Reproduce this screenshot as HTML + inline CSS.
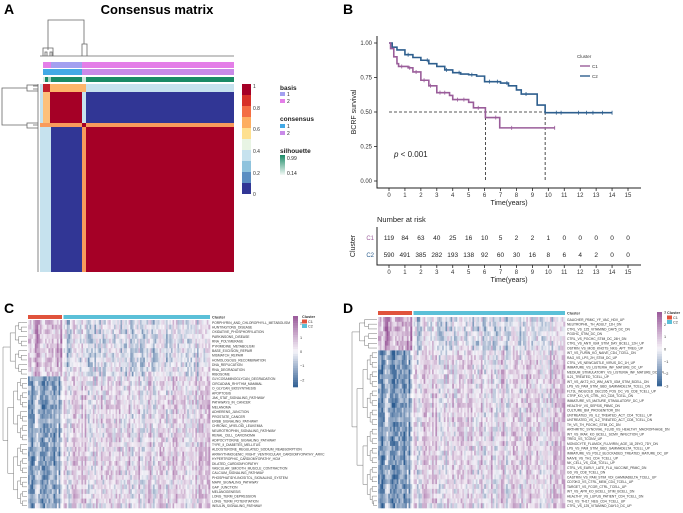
<!DOCTYPE html>
<html><head><meta charset="utf-8">
<style>
html,body{margin:0;padding:0;background:#fff;}
body{width:683px;height:513px;overflow:hidden;font-family:"Liberation Sans",Arial,sans-serif;}
svg{position:absolute;left:0;top:0;}
</style></head>
<body>
<svg id="fig" width="683" height="513" viewBox="0 0 683 513" xmlns="http://www.w3.org/2000/svg" font-family="Liberation Sans, Arial, sans-serif">
<g id="panelA">
  <text x="4" y="14" font-size="14" font-weight="bold">A</text>
  <text x="157" y="14" font-size="13" font-weight="bold" text-anchor="middle">Consensus matrix</text>
  <g stroke="#666" stroke-width="0.8" fill="none">
    <path d="M48,50 V20 H84 V44"/><path d="M43,56 V48 H53 V56 M45,56 V52 H47 V56 M50,56 V52 H52 V56"/><path d="M82,56 V44 H87 V56"/>
    <path d="M40,56 H234"/>
  </g>
  <g stroke="#666" stroke-width="0.8" fill="none">
    <path d="M27,88 H2 V125 H27"/><path d="M38,85 H27 V91 H38 M33,86 H38 M33,89 H38"/><path d="M38,123 H27 V128 H38 M33,125 H38"/>
    <path d="M38,84 V272"/>
  </g>
  <g>
    <rect x="43" y="62" width="8" height="6" fill="#e47ee8"/><rect x="51" y="62" width="31" height="6" fill="#a3a0f0"/><rect x="82" y="62" width="152" height="6" fill="#e47ee8"/>
  </g>
  <g>
    <rect x="43" y="69" width="39" height="6" fill="#43a9e6"/><rect x="82" y="69" width="152" height="6" fill="#c98ae8"/>
  </g>
  <g>
    <rect x="43" y="77" width="191" height="5" fill="#1a8a66"/><rect x="43" y="77" width="2" height="5" fill="#d7ece4"/><rect x="48" y="77" width="3" height="5" fill="#9fd0bd"/><rect x="82" y="77" width="4" height="5" fill="#cfe8de"/>
  </g>
  <g>
    <rect x="40" y="84" width="194" height="188" fill="#c6e2ee"/>
    <rect x="43" y="84" width="43" height="8" fill="#fdb56a"/>
    <rect x="43" y="84" width="7" height="8" fill="#c2212c"/>
    <rect x="43" y="92" width="7" height="31" fill="#fdc07a"/>
    <rect x="50" y="92" width="32" height="31" fill="#a50026"/>
    <rect x="86" y="92" width="148" height="31" fill="#313695"/>
    <rect x="40" y="123" width="194" height="4" fill="#f89b5c"/>
    <rect x="82" y="123" width="4" height="4" fill="#a50026"/>
    <rect x="51" y="127" width="31" height="145" fill="#313695"/>
    <rect x="82" y="127" width="4" height="145" fill="#f89b5c"/>
    <rect x="86" y="127" width="148" height="145" fill="#a50026"/>
  </g>
  <g>
    <rect x="242" y="84" width="9" height="11" fill="#a50026"/><rect x="242" y="95" width="9" height="11" fill="#d73027"/><rect x="242" y="106" width="9" height="11" fill="#f46d43"/><rect x="242" y="117" width="9" height="11" fill="#fdae61"/><rect x="242" y="128" width="9" height="11" fill="#fee090"/><rect x="242" y="139" width="9" height="11" fill="#e8f4e4"/><rect x="242" y="150" width="9" height="11" fill="#c6e2ee"/><rect x="242" y="161" width="9" height="11" fill="#8fc3dd"/><rect x="242" y="172" width="9" height="11" fill="#5b8ec2"/><rect x="242" y="183" width="9" height="11" fill="#313695"/>
    <g font-size="5" fill="#333"><text x="253" y="88">1</text><text x="253" y="110">0.8</text><text x="253" y="131">0.6</text><text x="253" y="153">0.4</text><text x="253" y="175">0.2</text><text x="253" y="196">0</text></g>
  </g>
  <g font-size="6.5" fill="#222">
    <text x="280" y="90" font-weight="bold">basis</text>
    <rect x="280" y="92" width="5" height="4" fill="#a3a0f0"/><text x="287" y="96" font-size="5">1</text>
    <rect x="280" y="99" width="5" height="4" fill="#e47ee8"/><text x="287" y="103" font-size="5">2</text>
    <text x="280" y="121" font-weight="bold">consensus</text>
    <rect x="280" y="124" width="5" height="4" fill="#43a9e6"/><text x="287" y="128" font-size="5">1</text>
    <rect x="280" y="131" width="5" height="4" fill="#c98ae8"/><text x="287" y="135" font-size="5">2</text>
    <text x="280" y="153" font-weight="bold">silhouette</text>
    <defs><linearGradient id="silg" x1="0" y1="0" x2="0" y2="1"><stop offset="0" stop-color="#1a8a66"/><stop offset="1" stop-color="#f3f9f6"/></linearGradient></defs>
    <rect x="280" y="155" width="5" height="20" fill="url(#silg)"/>
    <text x="287" y="160" font-size="5">0.99</text><text x="287" y="175" font-size="5">0.14</text>
  </g>
</g>

<g id="panelB">
  <text x="343" y="14" font-size="14" font-weight="bold">B</text>
  <g id="km"></g>
  <g id="risk"></g>
</g>

<g id="panelC">
  <text x="4" y="313" font-size="14" font-weight="bold">C</text>
</g>
<g id="panelD">
  <text x="343" y="313" font-size="14" font-weight="bold">D</text>
</g>
</svg>
<script>
// ---------- Panel B data ----------
const c1Times = [0,0.1,0.3,0.5,0.6,1.2,1.5,2.0,2.5,3.0,3.8,4.0,5.0,5.3,6.05,6.95,10.4];
const c1Surv  = [1,0.96,0.90,0.85,0.83,0.82,0.79,0.73,0.69,0.64,0.62,0.59,0.57,0.53,0.46,0.385,0.385];
const c2Times = [0,0.2,0.5,1.0,1.5,2.0,2.5,3.0,3.5,4.0,4.5,5.0,5.5,6.0,7.0,7.5,8.0,8.3,9.0,9.3,9.8,14.0];
const c2Surv  = [1,0.97,0.95,0.915,0.895,0.875,0.85,0.83,0.805,0.785,0.775,0.77,0.76,0.72,0.71,0.69,0.66,0.63,0.63,0.55,0.495,0.495];
const c1Censor = [0.8,1.3,1.7,2.2,2.6,3.2,3.5,4.3,4.7,5.6,6.7,7.7,10.4];
const c2Censor = [1.2,2.4,3.6,4.4,5.2,6.3,6.8,7.4,8.6,10.5,10.8,11.9,12.4,12.8,13.4,14.0];
const medianTimes = [6.05,9.8];
const xTicks = [0,1,2,3,4,5,6,7,8,9,10,11,12,13,14,15];
const yTicks = [0,0.25,0.5,0.75,1.0];
const riskC1 = [119,84,63,40,25,16,10,5,2,2,1,0,0,0,0,0];
const riskC2 = [590,491,385,282,193,138,92,60,30,16,8,6,4,2,0,0];

const NS="http://www.w3.org/2000/svg";
function mk(tag,attrs,parent,text){const e=document.createElementNS(NS,tag);for(const k in attrs)e.setAttribute(k,attrs[k]);if(text!==undefined)e.textContent=text;parent.appendChild(e);return e;}
const xS=t=>389+t*(628-389)/15;
const yS=s=>181-s*(181-43);
const km=document.getElementById('km');
let ax=mk('path',{d:'M377,36 V188 H641',stroke:'#222','stroke-width':1,fill:'none'},km);


yTicks.forEach(v=>{
  mk('line',{x1:374,x2:377,y1:yS(v),y2:yS(v),stroke:'#222','stroke-width':0.8},km);
  let t=mk('text',{x:372,y:yS(v)+2,'font-size':6,'text-anchor':'end',fill:'#333'},km,v.toFixed(2));
  
  
});
xTicks.forEach(v=>{
  mk('line',{x1:xS(v),x2:xS(v),y1:188,y2:191,stroke:'#222','stroke-width':0.8},km);
  let t=mk('text',{x:xS(v),y:197,'font-size':6,'text-anchor':'middle',fill:'#333'},km,String(v));
  
  
});
let yt=mk('text',{x:0,y:0,'font-size':7,'text-anchor':'middle',transform:'translate(356,112) rotate(-90)',fill:'#222'},km,'BCRF survival');


let xt=mk('text',{x:509,y:205,'font-size':7,'text-anchor':'middle',fill:'#222'},km,'Time(years)');


let pv=mk('text',{x:394,y:157,'font-size':8,fill:'#222'},km);


mk('tspan',{'font-style':'italic'},pv,'p');mk('tspan',{},pv,' < 0.001');
let dh=mk('path',{d:`M${xS(0)},${yS(0.5)} H${xS(medianTimes[1])}`,stroke:'#222','stroke-width':0.8,'stroke-dasharray':'3,2',fill:'none'},km);


medianTimes.forEach(m=>{
  let l=mk('path',{d:`M${xS(m)},${yS(0.5)} V${yS(0)}`,stroke:'#222','stroke-width':0.8,'stroke-dasharray':'3,2',fill:'none'},km);
  
  
});
function stepPath(ts,ss){let d=`M${xS(ts[0])},${yS(ss[0])}`;for(let i=1;i<ts.length;i++){d+=` H${xS(ts[i])} V${yS(ss[i])}`;}return d;}
function survAt(ts,ss,t){let s=ss[0];for(let i=0;i<ts.length;i++){if(ts[i]<=t)s=ss[i];}return s;}
function curve(ts,ss,cens,col,name){
  let p=mk('path',{d:stepPath(ts,ss),stroke:col,'stroke-width':1.6,fill:'none'},km);
  
  
  cens.forEach(t=>{const y=yS(survAt(ts,ss,t));
    let c=mk('path',{d:`M${xS(t)},${y-2} V${y+2}`,stroke:col,'stroke-width':0.8},km);
    
    });
}
curve(c2Times,c2Surv,c2Censor,'#2e5f8e','c2-survival-curve');
curve(c1Times,c1Surv,c1Censor,'#9a5d9a','c1-survival-curve');
let lg=mk('g',{},km);


mk('text',{x:577,y:58,'font-size':4.5,fill:'#333'},lg,'Cluster');
mk('line',{x1:580,x2:590,y1:66,y2:66,stroke:'#9a5d9a','stroke-width':1.4},lg);
mk('text',{x:592,y:68,'font-size':4.5,fill:'#333'},lg,'C1');
mk('line',{x1:580,x2:590,y1:76,y2:76,stroke:'#2e5f8e','stroke-width':1.4},lg);
mk('text',{x:592,y:78,'font-size':4.5,fill:'#333'},lg,'C2');
const risk=document.getElementById('risk');
mk('text',{x:377,y:222,'font-size':7.5,fill:'#222'},risk,'Number at risk');
mk('path',{d:'M377,227 V265 H641',stroke:'#222','stroke-width':1,fill:'none'},risk);
mk('text',{x:0,y:0,'font-size':7,'text-anchor':'middle',transform:'translate(355,246) rotate(-90)',fill:'#222'},risk,'Cluster');
mk('text',{x:374,y:240,'font-size':6,'text-anchor':'end',fill:'#9a5d9a'},risk,'C1');
mk('text',{x:374,y:257,'font-size':6,'text-anchor':'end',fill:'#2e5f8e'},risk,'C2');
riskC1.forEach((v,i)=>{let t=mk('text',{x:xS(xTicks[i]),y:240,'font-size':6.5,'text-anchor':'middle',fill:'#222'},risk,String(v));
  
  });
riskC2.forEach((v,i)=>{let t=mk('text',{x:xS(xTicks[i]),y:257,'font-size':6.5,'text-anchor':'middle',fill:'#222'},risk,String(v));
  
  });
xTicks.forEach(v=>{mk('line',{x1:xS(v),x2:xS(v),y1:265,y2:268,stroke:'#222','stroke-width':0.8},risk);
  mk('text',{x:xS(v),y:274,'font-size':6,'text-anchor':'middle',fill:'#333'},risk,String(v));});
mk('text',{x:509,y:282,'font-size':7,'text-anchor':'middle',fill:'#222'},risk,'Time(years)');

// ---------- Panel C/D heatmap data ----------
const cRows = ["PORPHYRIN_AND_CHLOROPHYLL_METABOLISM","HUNTINGTONS_DISEASE","OXIDATIVE_PHOSPHORYLATION","PARKINSONS_DISEASE","RNA_POLYMERASE","PYRIMIDINE_METABOLISM","BASE_EXCISION_REPAIR","MISMATCH_REPAIR","HOMOLOGOUS_RECOMBINATION","DNA_REPLICATION","RNA_DEGRADATION","RIBOSOME","GLYCOSAMINOGLYCAN_DEGRADATION","CIRCADIAN_RHYTHM_MAMMAL","O_GLYCAN_BIOSYNTHESIS","APOPTOSIS","JAK_STAT_SIGNALING_PATHWAY","PATHWAYS_IN_CANCER","MELANOMA","ADHERENS_JUNCTION","PROSTATE_CANCER","ERBB_SIGNALING_PATHWAY","CHRONIC_MYELOID_LEUKEMIA","NEUROTROPHIN_SIGNALING_PATHWAY","RENAL_CELL_CARCINOMA","ADIPOCYTOKINE_SIGNALING_PATHWAY","TYPE_II_DIABETES_MELLITUS","ALDOSTERONE_REGULATED_SODIUM_REABSORPTION","ARRHYTHMOGENIC_RIGHT_VENTRICULAR_CARDIOMYOPATHY_ARVC","HYPERTROPHIC_CARDIOMYOPATHY_HCM","DILATED_CARDIOMYOPATHY","VASCULAR_SMOOTH_MUSCLE_CONTRACTION","CALCIUM_SIGNALING_PATHWAY","PHOSPHATIDYLINOSITOL_SIGNALING_SYSTEM","MAPK_SIGNALING_PATHWAY","GAP_JUNCTION","MELANOGENESIS","LONG_TERM_DEPRESSION","LONG_TERM_POTENTIATION","INSULIN_SIGNALING_PATHWAY"];
const cMeanC1 = [1.0,1.0,0.9,0.9,0.9,0.8,0.9,0.9,0.8,0.8,0.7,0.8,-1.2,-1.2,-1.0,-1.1,-1.1,-1.2,-1.2,-1.1,-1.1,-1.1,-1.0,-1.1,-1.1,-1.0,-1.0,-1.1,-1.2,-1.2,-1.2,-1.1,-1.1,-1.1,-1.0,-1.1,-1.1,-1.0,-1.1,-1.0];
const cMeanC2 = [-0.2,-0.2,-0.2,-0.3,-0.3,-0.2,-0.3,-0.3,-0.3,-0.3,-0.2,-0.2,0.2,0.2,0.2,0.2,0.3,0.3,0.3,0.2,0.2,0.2,0.2,0.2,0.2,0.2,0.2,0.3,0.4,0.4,0.4,0.3,0.3,0.3,0.2,0.3,0.2,0.3,0.3,0.2];
const dRows = ["GAUCHER_PBMC_YF_VAC_HDV_UP","NEUTROPHIL_TH_ADULT_12H_DN","CTRL_VS_125_VITAMIND_DAY5_DC_DN","PGGHC_STIM_DC_DN","CTRL_VS_PGCHC_STIM_DC_24H_DN","CTRL_VS_ANTI_IGM_STIM_DAY_BCELL_12H_UP","OSTRIN_VS_MOD_KNOTS_NKG_APT_TREG_UP","WT_VS_FURIN_KO_NAIVE_CD4_TCELL_DN","RAG_VS_LPS_2H_STIM_DC_UP","CTRL_VS_NEWCASTLE_VIRUS_DC_1H_UP","IMMATURE_VS_LISTERIA_INF_MATURE_DC_UP","MEDIUM_STIMULATORY_VS_LISTERIA_INF_MATURE_DC_DN","IL21_TREATED_TCELL_UP","WT_VS_AKT2_KO_WM_ANTI_IGM_STIM_BCELL_DN","LPS_VS_PAM_STIM_GBD_GAMMADELTA_TCELL_DN","FLT3L_INDUCED_DEC205_POS_DC_VS_CD8_TCELL_UP","CTRP_KO_VS_CTRL_KO_CD8_TCELL_DN","IMMATURE_VS_MATURE_STIMULATORY_DC_UP","HEALTHY_VS_SEPSIS_PBMC_DN","CULTURE_BM_PROGENITOR_DN","UNTREATED_VS_IL2_TREATED_ACT_CD4_TCELL_UP","UNTREATED_VS_IL2_TREATED_ACT_CD8_TCELL_DN","TH_VS_TH_PGCHC_STIM_DC_DN","ARTHRITIC_SYNOVIAL_FLUID_VS_HEALTHY_MACROPHAGE_DN","WT_VS_IRAK_KO_BCELL_SCMV_INFECTION_UP","TREG_VS_TCONV_UP","MONOCYTE_FLUMOX_FLUVIRIN_AGE_18_25YO_7DY_DN","LPS_VS_PAM_STIM_GBD_GAMMADELTA_TCELL_UP","IMMATURE_VS_PDL2_BLOCKADED_TREATED_MATURE_DC_UP","NAIVE_VS_TH1_CD4_TCELL_UP","NK_CELL_VS_CD8_TCELL_UP","CTRL_VS_EARLY_LATE_FLU_VACCINE_PBMC_DN","GD_VS_CD8_TCELL_DN","CASTRIN_VS_PAM_STIM_VDI_GAMMADELTA_TCELL_UP","CD70KO_VS_CTRL_MEM_CD4_TCELL_UP","TARGET_VS_FCGR_CTRL_TCELL_UP","WT_VS_APR_KO_BCELL_STIM_BCELL_DN","HEALTHY_VS_LUPUS_PATIENT_CD4_TCELL_DN","TH1_VS_TH17_NEG_CD4_TCELL_UP","CTRL_VS_125_VITAMIND_DAY10_DC_UP"];
const dMeanC1 = [1.3,1.2,1.3,1.2,1.1,1.2,1.0,-1.3,-1.4,-1.3,-1.4,-1.3,-1.4,-1.3,-1.2,-1.3,-1.2,-1.3,-1.3,-1.2,-1.2,-1.3,-1.3,-1.2,-1.2,-1.3,-1.3,-1.2,-1.2,-1.3,-1.2,-1.3,-1.2,-1.4,-1.3,-1.3,-1.2,-1.3,-1.3,-1.2];
const dMeanC2 = [-0.3,-0.3,-0.3,-0.3,-0.2,-0.3,-0.2,0.2,0.3,0.3,0.3,0.3,0.3,0.3,0.2,0.3,0.2,0.3,0.3,0.3,0.3,0.3,0.3,0.3,0.3,0.3,0.3,0.3,0.3,0.3,0.3,0.3,0.2,0.3,0.3,0.3,0.2,0.3,0.3,0.2];

function lerp(a,b,t){return Math.round(a+(b-a)*t);}
function zColor(z){
  const lo=[44,92,145],mid=[246,244,249],hi=[152,86,152];
  z=Math.max(-2.5,Math.min(2.5,z))/2.5;
  const c=z<0?[0,1,2].map(i=>lerp(mid[i],lo[i],-z)):[0,1,2].map(i=>lerp(mid[i],hi[i],z));
  return `rgb(${c[0]},${c[1]},${c[2]})`;
}
function hash(a){let h=(a*2654435761)>>>0;h=((h^(h>>>15))*2246822519)>>>0;h=(h^(h>>>13))>>>0;return (h&1023)/1023-0.5;}
// deterministic texture: column streaks + cell noise around row means
function jitter(r,c){return hash(c*7+3)*1.6+hash(r*1009+c*31+17)*1.4;}

function heatmap(parent,rows,m1,m2,cfg){
  const g=mk('g',{},parent);
  
  
  const nC1=cfg.nC1,nC2=cfg.nC2;
  const rh=(cfg.y1-cfg.y0)/rows.length;
  const w1=(cfg.xs-cfg.x0)/nC1, w2=(cfg.x1-cfg.xs-1.5)/nC2;
  let a1=mk('rect',{x:cfg.x0,y:cfg.ay,width:cfg.xs-cfg.x0,height:4,fill:'#e0533c'},g);
  
  
  let a2=mk('rect',{x:cfg.xs+1.5,y:cfg.ay,width:cfg.x1-cfg.xs-1.5,height:4,fill:'#5bc0d8'},g);
  
  
  rows.forEach((name,r)=>{
    const y=cfg.y0+r*rh;
    for(let c=0;c<nC1;c++){mk('rect',{x:cfg.x0+c*w1,y:y,width:w1+0.3,height:rh+0.3,fill:zColor(m1[r]+jitter(r,c))},g);}
    for(let c=0;c<nC2;c++){mk('rect',{x:cfg.xs+1.5+c*w2,y:y,width:w2+0.3,height:rh+0.3,fill:zColor(m2[r]+jitter(r,c+500))},g);}
    let t=mk('text',{x:cfg.x1+2,y:y+rh*0.8,'font-size':3.3,fill:'#333'},g,name);
    
    
  });
  mk('text',{x:cfg.x1+2,y:cfg.ay+3.5,'font-size':3.8,'font-weight':'bold',fill:'#333'},g,'Cluster');
  const dg=mk('g',{stroke:'#666','stroke-width':0.45,fill:'none'},g);
  
  
  const split=cfg.split, xl=cfg.dx0, xr=cfg.x0-1;
  const span=xr-xl;
  function sub(r0,r1,x){
    const yc=cfg.y0+rh*(r0+r1)/2;
    if(r1-r0<=1){mk('path',{d:`M${x},${yc} H${xr}`},dg);return yc;}
    const m=Math.floor((r0+r1)/2);
    const x2=x+(xr-x)*0.3;
    const ya=sub(r0,m,x2), yb=sub(m,r1,x2);
    mk('path',{d:`M${x2},${ya} H${x} V${yb} H${x2}`},dg);
    return (ya+yb)/2;
  }
  const yA=sub(0,split,xl+span*0.3), yB=sub(split,rows.length,xl+span*0.2);
  mk('path',{d:`M${xl+span*0.3},${yA} H${xl} V${yB} H${xl+span*0.2}`},dg);
  const lg=mk('g',{},g);
  
  
  const steps=30;
  for(let i=0;i<steps;i++){const z=cfg.zmax-(2*cfg.zmax)*i/(steps-1);
    mk('rect',{x:cfg.lx,y:cfg.ly0+i*(cfg.ly1-cfg.ly0)/steps,width:5,height:(cfg.ly1-cfg.ly0)/steps+0.3,fill:zColor(z*2.5/cfg.zmax*0.95)},lg);}
  cfg.ticks.forEach(v=>{const y=cfg.ly0+(cfg.zmax-v)/(2*cfg.zmax)*(cfg.ly1-cfg.ly0);
    mk('text',{x:cfg.lx+7,y:y+1.5,'font-size':3.8,fill:'#333'},lg,String(v).replace('-','\u2212'));});
  const cl=mk('g',{},g);
  
  
  mk('text',{x:cfg.cx,y:cfg.cy,'font-size':3.8,'font-weight':'bold',fill:'#333'},cl,'Cluster');
  mk('rect',{x:cfg.cx,y:cfg.cy+1.5,width:5,height:4,fill:'#e0533c'},cl);
  mk('text',{x:cfg.cx+6,y:cfg.cy+5,'font-size':3.8,fill:'#333'},cl,'C1');
  mk('rect',{x:cfg.cx,y:cfg.cy+6,width:5,height:4,fill:'#5bc0d8'},cl);
  mk('text',{x:cfg.cx+6,y:cfg.cy+9.5,'font-size':3.8,fill:'#333'},cl,'C2');
}
heatmap(document.getElementById('panelC'),cRows,cMeanC1,cMeanC2,
 {name:'heatmap-c',x0:28,xs:62,x1:210,y0:320,y1:508,ay:315,nC1:20,nC2:90,split:12,dx0:3,
  lx:293,ly0:316,ly1:387,zmax:2.5,ticks:[2,1,0,-1,-2],cx:302,cy:318});
heatmap(document.getElementById('panelD'),dRows,dMeanC1,dMeanC2,
 {name:'heatmap-d',x0:378,xs:412,x1:565,y0:317,y1:508,ay:311,nC1:20,nC2:90,split:7,dx0:352,
  lx:657,ly0:312,ly1:386,zmax:3,ticks:[3,2,1,0,-1,-2,-3],cx:667,cy:314});
</script>
</body></html>
